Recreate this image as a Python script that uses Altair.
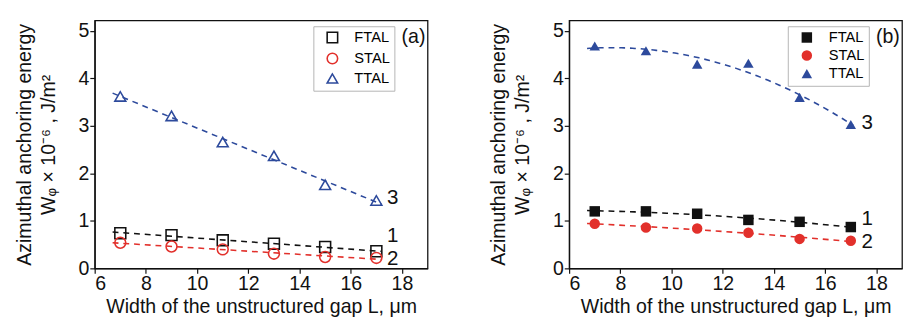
import altair as alt
import pandas as pd

# ---- data ----
gap_L = [7, 9, 11, 13, 15, 17]
series_names = ["FTAL", "STAL", "TTAL"]

a_ftal = [0.74, 0.70, 0.59, 0.52, 0.45, 0.36]
a_stal = [0.54, 0.46, 0.40, 0.31, 0.24, 0.22]
a_ttal = [3.62, 3.21, 2.66, 2.37, 1.76, 1.43]

b_ftal = [1.20, 1.20, 1.15, 1.02, 0.98, 0.87]
b_stal = [0.94, 0.86, 0.84, 0.75, 0.62, 0.58]
b_ttal = [4.68, 4.58, 4.30, 4.32, 3.60, 3.03]

curve_labels = ["1", "2", "3"]
a_label_y = [0.68, 0.20, 1.48]
b_label_y = [1.03, 0.56, 3.05]
label_x = 17.42

colors = ["#111111", "#e2302b", "#2d4a9c"]
shapes = ["square", "circle", "triangle-up"]

FONT = "Liberation Sans"


def make_df(f, s, t):
    rows = []
    for name, vals in zip(series_names, [f, s, t]):
        for x, y in zip(gap_L, vals):
            rows.append({"L": x, "W": y, "series": name})
    return pd.DataFrame(rows)


minor_tick = {"condition": {"test": "datum.value % 1 !== 0", "value": 3}, "value": 5}
minor_tick_x = {"condition": {"test": "datum.value % 2 !== 0", "value": 3}, "value": 5}

x_scale = alt.Scale(domain=[6, 19], nice=False, zero=False)
y_scale = alt.Scale(domain=[0, 5.22], nice=False, zero=False)
col_scale = alt.Scale(domain=series_names, range=colors)
shape_scale = alt.Scale(domain=series_names, range=shapes)

x_axis = alt.Axis(
    title="Width of the unstructured gap L, μm",
    values=list(range(6, 19)),
    labelExpr="datum.value % 2 === 0 ? datum.label : ''",
    tickSize=minor_tick_x,
    grid=False,
    labelFontSize=20,
    titleFontSize=20,
    titlePadding=3,
    labelPadding=1,
)
y_axis = alt.Axis(
    title=["Azimuthal anchoring energy", "W\u1d69 \u00d7 10\u207b\u2076 , J/m\u00b2"],
    values=[i * 0.5 for i in range(0, 11)],
    labelExpr="datum.value % 1 === 0 ? datum.label : ''",
    tickSize=minor_tick,
    grid=False,
    labelFontSize=20,
    titleFontSize=20,
    titlePadding=20,
    labelPadding=1,
    titleLineHeight=25,
)


def make_panel(f, s, t, filled, b_mode, tag, tag_x, label_ys):
    df = make_df(f, s, t)
    base = alt.Chart(df)

    if b_mode:
        reg = base.transform_regression(
            "L", "W", groupby=["series"], method="poly", order=2, extent=[6.7, 17.1]
        )
    else:
        reg = base.transform_regression(
            "L", "W", groupby=["series"], method="linear", extent=[6.7, 17.2]
        )
    line_layers = []
    for name, col in zip(series_names, colors):
        line_layers.append(
            reg.transform_filter(alt.datum.series == name)
            .mark_line(strokeDash=[6, 5], strokeWidth=1.6, color=col)
            .encode(
                x=alt.X("L:Q", scale=x_scale, axis=x_axis),
                y=alt.Y("W:Q", scale=y_scale, axis=y_axis),
            )
        )

    legend = alt.Legend(
        title=None,
        orient="none",
        legendX=224,
        legendY=6,
        strokeColor="#b4b4b4",
        fillColor="white",
        padding=4,
        labelFontSize=15,
        labelFont=FONT,
        symbolSize=115,
        symbolStrokeWidth=1.6,
        rowPadding=2.5,
        symbolOffset=8,
        labelOffset=15,
    )
    pts = base.mark_point(
        filled=filled, strokeWidth=1.6, size=125 if not filled else 115, opacity=1
    ).encode(
        x=alt.X("L:Q", scale=x_scale, axis=x_axis),
        y=alt.Y("W:Q", scale=y_scale, axis=y_axis),
        color=alt.Color("series:N", scale=col_scale, legend=legend),
        shape=alt.Shape("series:N", scale=shape_scale, legend=legend),
    )

    lab_df = pd.DataFrame({"L": [label_x] * 3, "W": label_ys, "t": curve_labels})
    labels = alt.Chart(lab_df).mark_text(
        font=FONT, fontSize=21, align="left", baseline="middle", color="#111"
    ).encode(x="L:Q", y="W:Q", text="t:N")

    tag_df = pd.DataFrame({"L": [tag_x], "W": [4.87], "t": [tag]})
    tagm = alt.Chart(tag_df).mark_text(
        font=FONT, fontSize=20, align="center", baseline="middle", color="#111"
    ).encode(x="L:Q", y="W:Q", text="t:N")

    return alt.layer(*line_layers, pts, labels, tagm).properties(width=341, height=254)


panel_a = make_panel(a_ftal, a_stal, a_ttal, False, False, "(a)", 18.45, a_label_y)
panel_b = make_panel(b_ftal, b_stal, b_ttal, True, True, "(b)", 18.45, b_label_y)

chart = (
    alt.hconcat(panel_a, panel_b, spacing=61)
    .resolve_legend(color="independent", shape="independent")
    .resolve_scale(color="independent", shape="independent")
    .properties(padding={"left": 14, "top": 16, "right": 0, "bottom": 0})
    .configure(font=FONT)
    .configure_view(stroke="#111", strokeWidth=1.3)
    .configure_axis(
        domainColor="#111",
        tickColor="#111",
        labelColor="#111",
        titleColor="#111",
        labelFont=FONT,
        titleFont=FONT,
        titleFontWeight="normal",
        domainWidth=1.3,
        tickWidth=1.2,
    )
)

chart.save("out.html", embed_options={"renderer": "svg", "actions": False})
